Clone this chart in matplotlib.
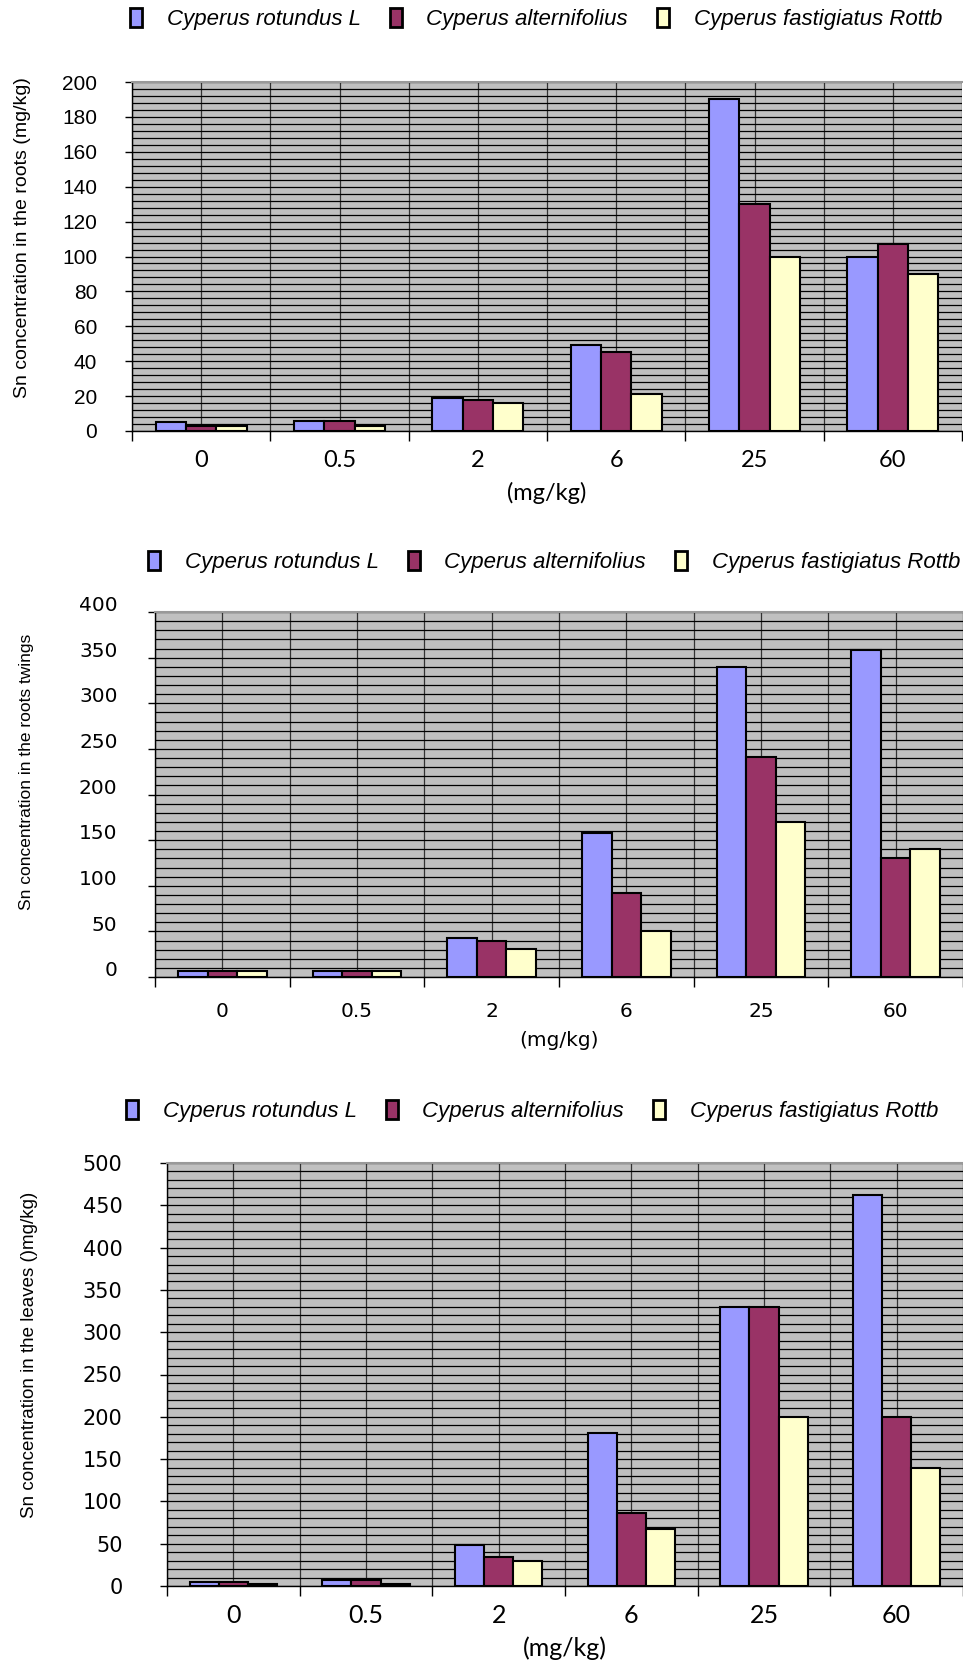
import numpy as np
import matplotlib
matplotlib.use("Agg")
import matplotlib.pyplot as plt
from matplotlib.ticker import MultipleLocator
import matplotlib.transforms as mtransforms

# dose levels in the soil (mg/kg)
doses = ["0", "0.5", "2", "6", "25", "60"]
species = ["Cyperus rotundus L", "Cyperus alternifolius", "Cyperus fastigiatus Rottb"]
colors = ["#9999FF", "#993366", "#FFFFCC"]

# Sn in roots
roots_rotundus = [5, 6, 19, 49, 190, 100]
roots_altern = [3, 6, 18, 45, 130, 107]
roots_fastig = [3, 3, 16, 21, 100, 90]

# Sn in roots twings
twigs_rotundus = [7, 7, 43, 158, 340, 358]
twigs_altern = [7, 7, 39, 92, 241, 130]
twigs_fastig = [7, 7, 31, 50, 170, 140]

# Sn in leaves
leaves_rotundus = [5, 7, 48, 181, 330, 462]
leaves_altern = [5, 7, 34, 86, 330, 200]
leaves_fastig = [2, 2, 29, 67, 200, 140]

W, H = 963, 1661
fig = plt.figure(figsize=(W / 100, H / 100), dpi=100)


def px_rect(left, top, right, bottom):
    return [left / W, 1 - bottom / H, (right - left) / W, (bottom - top) / H]


def draw_chart(rect, series, ymax, ystep, ylabel, ylabel_xy, ylab_size,
               tick_font, tick_size, tick_pad, ytick_shift,
               xfont, xsize, xpad, xlabel_y, legend_xy):
    ax = fig.add_axes(rect)
    ax.set_facecolor("#C0C0C0")
    n = len(doses)
    x = np.arange(n)
    w = 0.22
    bars = []
    for i, vals in enumerate(series):
        b = ax.bar(x + (i - 1) * w, vals, w, color=colors[i], edgecolor="black",
                   linewidth=1.5, zorder=3, label=species[i])
        bars.append(b)
    ax.set_xlim(-0.5, n - 0.5)
    ax.set_ylim(0, ymax)
    ax.yaxis.set_major_locator(MultipleLocator(ystep))
    ax.yaxis.set_minor_locator(MultipleLocator(ystep / 5))
    ax.grid(axis="y", which="both", color="black", linewidth=0.9, zorder=0)

    # ticks on boundaries, labels on centers
    ax.set_xticks(np.arange(-0.5, n, 1.0))
    ax.set_xticklabels([])
    ax.set_xticks(x, minor=True)
    ax.set_xticklabels(doses, minor=True, fontfamily=xfont, fontsize=xsize)
    ax.tick_params(axis="x", which="major", length=7, width=1, direction="out")
    ax.tick_params(axis="x", which="minor", length=0, pad=xpad)
    for v in np.arange(-0.5, n, 0.5):
        ax.axvline(v, color="#333333", linewidth=0.9, zorder=1)

    ax.tick_params(axis="y", which="major", length=5, width=1, pad=tick_pad,
                   labelsize=tick_size)
    ax.tick_params(axis="y", which="minor", length=0)
    for lbl in ax.get_yticklabels():
        lbl.set_fontfamily(tick_font)
    if ytick_shift:
        off = mtransforms.ScaledTranslation(0, ytick_shift / 72, fig.dpi_scale_trans)
        for lbl in ax.get_yticklabels():
            lbl.set_transform(lbl.get_transform() + off)

    ax.spines["right"].set_visible(False)
    ax.spines["top"].set_color("#999999")
    ax.spines["top"].set_linewidth(1.5)
    ax.spines["left"].set_linewidth(1)
    ax.spines["bottom"].set_linewidth(1)

    fig.text(ylabel_xy[0] / W, 1 - ylabel_xy[1] / H, ylabel, rotation=90,
             ha="center", va="center", fontfamily="Liberation Sans", fontsize=ylab_size)
    cx = rect[0] + rect[2] / 2
    fig.text(cx, 1 - xlabel_y / H, "(mg/kg)", ha="center", va="center",
             fontfamily=xfont, fontsize=xsize)

    leg = fig.legend(handles=bars, labels=species, loc="center",
                     bbox_to_anchor=(legend_xy[0] / W, 1 - legend_xy[1] / H),
                     ncol=3, frameon=False, handlelength=0.55, handleheight=0.95,
                     handletextpad=1.1, columnspacing=1.3,
                     prop={"family": "Liberation Sans", "style": "italic", "size": 16})
    for p in leg.get_patches():
        p.set_linewidth(2)
    return ax


draw_chart(px_rect(132, 82, 962, 431),
           [roots_rotundus, roots_altern, roots_fastig], 200, 20,
           "Sn concentration in the roots (mg/kg)", (23, 238), 14,
           "Liberation Sans", 15, 20, 0,
           "Lato", 17, 14, 493, (536, 19))

draw_chart(px_rect(155, 612, 963, 977),
           [twigs_rotundus, twigs_altern, twigs_fastig], 400, 50,
           "Sn concentration in the roots twings", (27, 772), 12.5,
           "DejaVu Sans", 14.5, 22, 6,
           "DejaVu Sans", 14.5, 18, 1041, (554, 562))

draw_chart(px_rect(167, 1163, 963, 1586),
           [leaves_rotundus, leaves_altern, leaves_fastig], 500, 50,
           "Sn concentration in the leaves ()mg/kg)", (30, 1355), 13.5,
           "DejaVu Sans", 15, 27, 0,
           "Lato", 18, 13, 1648, (532, 1111))

fig.savefig("out.png", dpi=100)
